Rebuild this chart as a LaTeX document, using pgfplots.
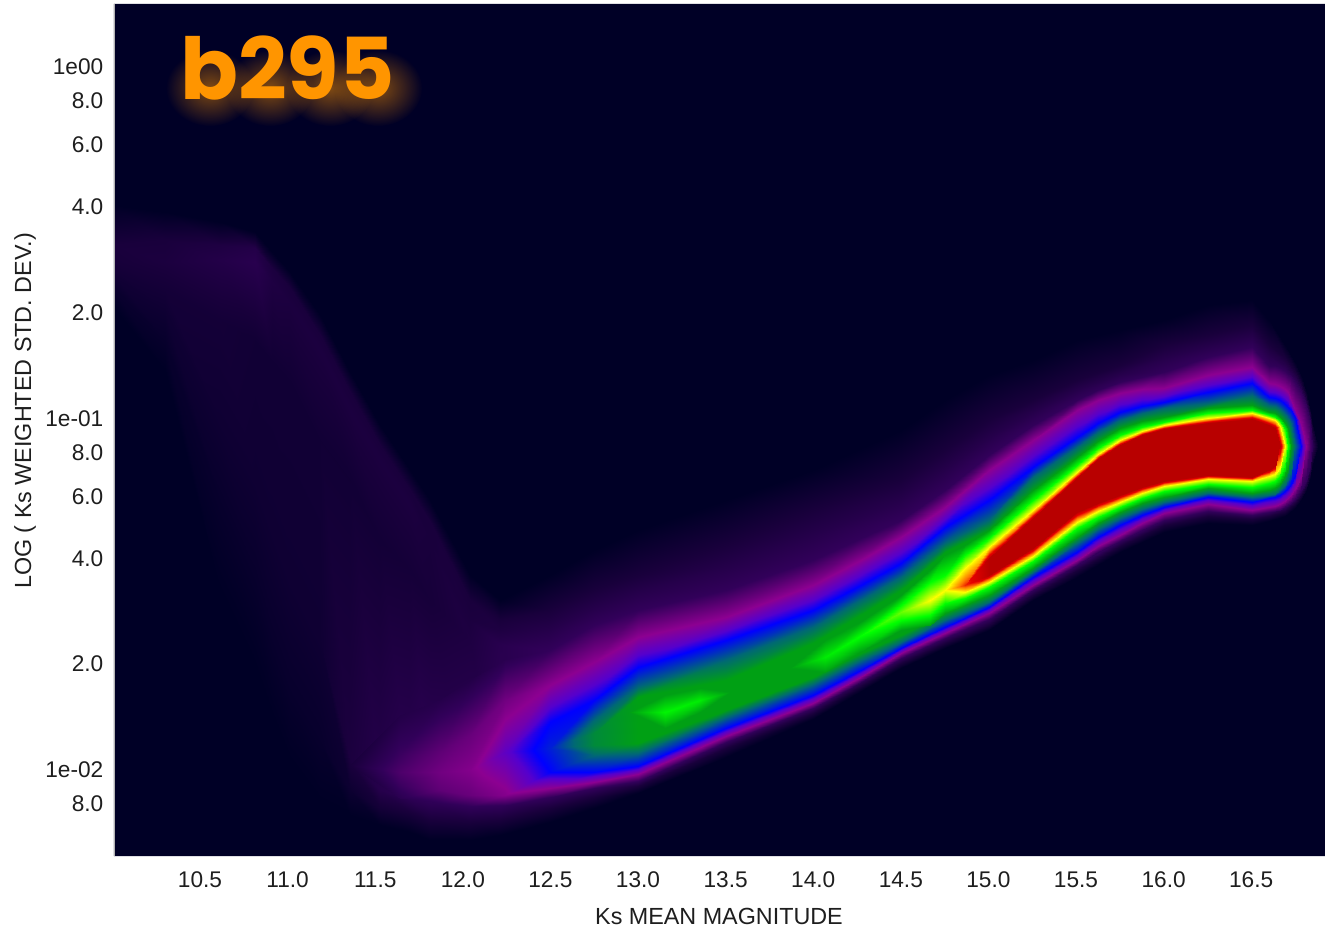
\documentclass[border=0pt]{standalone}
\usepackage{pgfplots}
\pgfplotsset{compat=1.18}
\usetikzlibrary{fadings}
\usepackage{fontspec}
\setmainfont{Liberation Sans}
\newfontfamily\pop{Poppins}
\definecolor{bgc}{RGB}{0,0,38}
\definecolor{ttl}{RGB}{255,149,0}
\definecolor{txt}{RGB}{30,30,30}
\tikzfading[name=softglow,inner color=transparent!0,middle color=transparent!55,outer color=transparent!100]
\pgfplotsset{colormap={heat}{rgb255(0pt)=(0,0,38); rgb255(5pt)=(25,0,60); rgb255(10pt)=(50,0,90); rgb255(20pt)=(140,0,145); rgb255(26pt)=(85,0,205); rgb255(30pt)=(0,0,255); rgb255(40pt)=(0,105,115); rgb255(50pt)=(0,160,20); rgb255(60pt)=(0,255,0); rgb255(70pt)=(255,255,0); rgb255(74pt)=(255,120,0); rgb255(77pt)=(230,0,0); rgb255(80pt)=(184,0,0)}}
\begin{document}
\begin{tikzpicture}[x=0.75pt,y=0.75pt]
\useasboundingbox (0,0) rectangle (1325,933);
\begin{axis}[at={(85.5pt,57.75pt)},anchor=south west,scale only axis,width=908.25pt,height=639pt,
 view={0}{90},xmin=10.009,xmax=16.921,ymin=-2.2476,ymax=0.176,zmin=0,zmax=8,
 point meta min=0,point meta max=8,colormap name=heat,
 axis background/.style={fill=bgc},axis line style={draw=none},major tick length=0pt,
 ztick=\empty,
 xtick={10.5,11,11.5,12,12.5,13,13.5,14,14.5,15,15.5,16,16.5},
 xticklabels={10.5,11.0,11.5,12.0,12.5,13.0,13.5,14.0,14.5,15.0,15.5,16.0,16.5},
 ytick={0,-0.0969,-0.2218,-0.3979,-0.699,-1,-1.0969,-1.2218,-1.3979,-1.699,-2,-2.0969},
 yticklabels={1e00,8.0,6.0,4.0,2.0,1e-01,8.0,6.0,4.0,2.0,1e-02,8.0},
 tick label style={font=\fontsize{17}{20}\selectfont,text=txt},
 yticklabel style={anchor=east,xshift=-4.5pt,yshift=-0.75pt},
 xticklabel style={anchor=base,yshift=-23.5pt},
 xlabel={Ks MEAN MAGNITUDE},ylabel={LOG ( Ks WEIGHTED STD. DEV.)},
 every axis x label/.style={at={(rel axis cs:0.4996,-0.0704)},anchor=center,font=\fontsize{17.5}{20}\selectfont,text=txt},
 every axis y label/.style={at={(rel axis cs:-0.0735,0.5223)},anchor=center,rotate=90,font=\fontsize{17.5}{20}\selectfont,text=txt},
 clip=true]
% faint envelope
\addplot3[surf,shader=interp,mesh/cols=7] coordinates {
(10.0,-0.395,0)(10.0,-0.509,.5)(10.0,-0.558,.45)(10.0,-0.575,.4)(10.0,-0.586,.35)(10.0,-0.623,.2)(10.0,-0.680,0)
(10.3,-0.415,0)(10.3,-0.495,.5)(10.3,-0.558,.55)(10.3,-0.637,.4)(10.3,-0.694,.3)(10.3,-0.780,.15)(10.3,-0.865,0)
(10.614,-0.444,0)(10.614,-0.509,.6)(10.614,-0.552,.7)(10.614,-0.723,.4)(10.614,-1.007,.3)(10.614,-1.235,.15)(10.614,-1.491,0)
(10.814,-0.472,0)(10.814,-0.518,.7)(10.814,-0.558,.8)(10.814,-0.780,.35)(10.814,-1.178,.3)(10.814,-1.462,.15)(10.814,-1.704,0)
(10.911,-0.529,0)(10.911,-0.575,.55)(10.911,-0.615,.6)(10.911,-0.836,.35)(10.911,-1.320,.3)(10.911,-1.633,.15)(10.911,-1.846,0)
(11.014,-0.586,0)(11.014,-0.632,.5)(11.014,-0.674,.55)(11.014,-0.893,.35)(11.014,-1.462,.3)(11.014,-1.775,.15)(11.014,-1.974,0)
(11.185,-0.708,0)(11.185,-0.765,.5)(11.185,-0.808,.55)(11.185,-1.064,.35)(11.185,-1.633,.3)(11.185,-1.918,.15)(11.185,-2.088,0)
(11.356,-0.871,0)(11.356,-0.927,.5)(11.356,-0.979,.55)(11.356,-1.178,.35)(11.356,-1.974,.55)(11.356,-2.060,.25)(11.356,-2.131,0)
(11.527,-1.021,0)(11.527,-1.078,.5)(11.527,-1.121,.55)(11.527,-1.349,.38)(11.527,-2.060,.75)(11.527,-2.111,.4)(11.527,-2.159,0)
(11.699,-1.149,0)(11.699,-1.206,.5)(11.699,-1.249,.55)(11.699,-1.434,.42)(11.699,-2.083,.9)(11.699,-2.122,.5)(11.699,-2.179,0)
(11.813,-1.235,0)(11.813,-1.297,.5)(11.813,-1.349,.5)(11.813,-1.519,.45)(11.813,-2.088,1)(11.813,-2.145,.5)(11.813,-2.202,0)
(12.041,-1.448,0)(12.041,-1.519,.5)(12.041,-1.576,.55)(12.041,-1.633,.6)(12.041,-2.105,1)(12.041,-2.151,.5)(12.041,-2.202,0)
(12.212,-1.519,0)(12.212,-1.576,.5)(12.212,-1.605,.6)(12.212,-1.647,.8)(12.212,-2.102,1)(12.212,-2.145,.5)(12.212,-2.188,0)
(12.498,-1.448,0)(12.498,-1.548,.5)(12.498,-1.605,.75)(12.498,-1.661,1)(12.498,-2.080,1)(12.498,-2.111,.5)(12.498,-2.151,0)
(12.749,-1.377,0)(12.749,-1.491,.5)(12.749,-1.542,.75)(12.749,-1.590,1)(12.749,-2.054,1)(12.749,-2.080,.5)(12.749,-2.111,0)
(13.0,-1.320,0)(13.0,-1.448,.5)(13.0,-1.496,.75)(13.0,-1.548,1)(13.0,-2.034,1)(13.0,-2.048,.5)(13.0,-2.068,0)
(13.502,-1.235,0)(13.502,-1.363,.5)(13.502,-1.428,.75)(13.502,-1.491,1)(13.502,-1.923,1)(13.502,-1.940,.5)(13.502,-1.966,0)
(13.999,-1.149,0)(13.999,-1.263,.5)(13.999,-1.334,.75)(13.999,-1.405,1)(13.999,-1.826,1)(13.999,-1.841,.5)(13.999,-1.858,0)
(14.501,-1.036,0)(14.501,-1.178,.5)(14.501,-1.235,.75)(14.501,-1.292,1)(14.501,-1.684,1)(14.501,-1.698,.5)(14.501,-1.713,0)
(14.752,-0.950,0)(14.752,-1.092,.5)(14.752,-1.149,.75)(14.752,-1.206,1)(14.752,-1.627,1)(14.752,-1.642,.5)(14.752,-1.656,0)
(15.003,-0.879,0)(15.003,-1.007,.5)(15.003,-1.058,.75)(15.003,-1.107,1)(15.003,-1.573,1)(15.003,-1.590,.5)(15.003,-1.605,0)
(15.254,-0.836,0)(15.254,-0.950,.5)(15.254,-0.984,.75)(15.254,-1.021,1)(15.254,-1.491,1)(15.254,-1.505,.5)(15.254,-1.519,0)
(15.506,-0.780,0)(15.506,-0.893,.5)(15.506,-0.922,.75)(15.506,-0.950,1)(15.506,-1.420,1)(15.506,-1.434,.5)(15.506,-1.454,0)
(15.751,-0.751,0)(15.751,-0.851,.5)(15.751,-0.876,.75)(15.751,-0.899,1)(15.751,-1.351,1)(15.751,-1.366,.5)(15.751,-1.383,0)
(16.002,-0.723,0)(16.002,-0.794,.5)(16.002,-0.831,.75)(16.002,-0.871,1)(16.002,-1.292,1)(16.002,-1.306,.5)(16.002,-1.326,0)
(16.253,-0.680,0)(16.253,-0.765,.5)(16.253,-0.797,.75)(16.253,-0.828,1)(16.253,-1.266,1)(16.253,-1.280,.5)(16.253,-1.300,0)
(16.505,-0.666,0)(16.505,-0.737,.5)(16.505,-0.768,.75)(16.505,-0.799,1)(16.505,-1.277,1)(16.505,-1.289,.5)(16.505,-1.306,0)
(16.602,-0.723,0)(16.602,-0.794,.5)(16.602,-0.822,.75)(16.602,-0.854,1)(16.602,-1.269,1)(16.602,-1.280,.5)(16.602,-1.294,0)
(16.693,-0.794,0)(16.693,-0.831,.5)(16.693,-0.851,.75)(16.693,-0.868,1)(16.693,-1.255,1)(16.693,-1.266,.5)(16.693,-1.280,0)
(16.750,-0.842,0)(16.750,-0.871,.5)(16.750,-0.885,.75)(16.750,-0.899,1)(16.750,-1.232,1)(16.750,-1.243,.5)(16.750,-1.257,0)
(16.784,-0.879,0)(16.784,-0.905,.5)(16.784,-0.916,.75)(16.784,-0.927,1)(16.784,-1.206,1)(16.784,-1.220,.5)(16.784,-1.235,0)
(16.813,-0.922,0)(16.813,-0.945,.5)(16.813,-0.956,.75)(16.813,-0.964,1)(16.813,-1.178,1)(16.813,-1.195,.5)(16.813,-1.209,0)
(16.836,-0.973,0)(16.836,-0.993,.5)(16.836,-1.004,.75)(16.836,-1.013,1)(16.836,-1.138,1)(16.836,-1.158,.5)(16.836,-1.175,0)
(16.847,-1.007,0)(16.847,-1.036,.5)(16.847,-1.058,.75)(16.847,-1.081,1)(16.847,-1.081,1)(16.847,-1.115,.5)(16.847,-1.144,0)
(16.881,-1.081,0)(16.881,-1.081,0)(16.881,-1.081,0)(16.881,-1.081,0)(16.881,-1.081,0)(16.881,-1.081,0)(16.881,-1.081,0)
};
% main band
\addplot3[surf,shader=interp,mesh/cols=10] coordinates {
(11.356,-1.989,.5)(11.356,-1.989,.5)(11.356,-1.989,.5)(11.356,-1.989,.5)(11.356,-1.989,.5)(11.356,-1.989,.5)(11.356,-1.989,.5)(11.356,-1.989,.5)(11.356,-1.989,.5)(11.356,-1.989,.5)
(11.642,-1.846,.7)(11.642,-1.960,1.1)(11.642,-2.009,1.3)(11.642,-2.009,1.3)(11.642,-2.009,1.3)(11.642,-2.009,1.3)(11.642,-2.009,1.3)(11.642,-2.009,1.3)(11.642,-2.046,1.1)(11.642,-2.083,.85)
(11.870,-1.804,.75)(11.870,-1.952,1.5)(11.870,-2.009,1.7)(11.870,-2.009,1.7)(11.870,-2.009,1.7)(11.870,-2.009,1.7)(11.870,-2.009,1.7)(11.870,-2.009,1.7)(11.870,-2.060,1.5)(11.870,-2.097,.95)
(12.041,-1.747,.7)(12.041,-1.903,1.6)(12.041,-2.003,1.9)(12.041,-2.003,1.9)(12.041,-2.003,1.9)(12.041,-2.003,1.9)(12.041,-2.003,1.9)(12.041,-2.003,1.9)(12.041,-2.074,1.6)(12.041,-2.105,1)
(12.241,-1.690,.85)(12.241,-1.804,1.7)(12.241,-1.952,2.5)(12.241,-1.952,2.5)(12.241,-1.952,2.5)(12.241,-1.952,2.5)(12.241,-1.952,2.5)(12.241,-1.952,2.5)(12.241,-2.074,1.9)(12.241,-2.102,1)
(12.498,-1.661,1)(12.498,-1.761,2)(12.498,-1.866,3)(12.498,-1.940,3.3)(12.498,-1.940,3.3)(12.498,-1.940,3.3)(12.498,-1.940,3.3)(12.498,-2.009,3)(12.498,-2.054,2)(12.498,-2.080,1)
(12.749,-1.590,1)(12.749,-1.696,2)(12.749,-1.804,3)(12.749,-1.861,4)(12.749,-1.898,4.6)(12.749,-1.932,4.6)(12.749,-1.960,4)(12.749,-2.009,3)(12.749,-2.037,2)(12.749,-2.054,1)
(13.0,-1.548,1)(13.0,-1.624,2)(13.0,-1.710,3)(13.0,-1.767,4)(13.0,-1.795,5)(13.0,-1.926,5)(13.0,-1.955,4)(13.0,-1.992,3)(13.0,-2.014,2)(13.0,-2.034,1)
(13.502,-1.491,1)(13.502,-1.568,2)(13.502,-1.633,3)(13.502,-1.690,4)(13.502,-1.747,5)(13.502,-1.832,5)(13.502,-1.852,4)(13.502,-1.883,3)(13.502,-1.906,2)(13.502,-1.923,1)
(13.999,-1.405,1)(13.999,-1.477,2)(13.999,-1.548,3)(13.999,-1.596,4)(13.999,-1.642,5)(13.999,-1.738,5)(13.999,-1.758,4)(13.999,-1.789,3)(13.999,-1.812,2)(13.999,-1.826,1)
(14.250,-1.349,1)(14.250,-1.411,2)(14.250,-1.482,3)(14.250,-1.525,4)(14.250,-1.568,5)(14.250,-1.676,5)(14.250,-1.696,4)(14.250,-1.724,3)(14.250,-1.744,2)(14.250,-1.758,1)
(14.501,-1.292,1)(14.501,-1.340,2)(14.501,-1.414,3)(14.501,-1.454,4)(14.501,-1.491,5)(14.501,-1.619,5)(14.501,-1.639,4)(14.501,-1.656,3)(14.501,-1.670,2)(14.501,-1.684,1)
(14.752,-1.206,1)(14.752,-1.255,2)(14.752,-1.312,3)(14.752,-1.357,4)(14.752,-1.383,5)(14.752,-1.556,5)(14.752,-1.576,4)(14.752,-1.596,3)(14.752,-1.613,2)(14.752,-1.627,1)
(15.003,-1.107,1)(15.003,-1.149,2)(15.003,-1.235,3)(15.003,-1.292,4)(15.003,-1.320,5)(15.003,-1.505,5)(15.003,-1.525,4)(15.003,-1.539,3)(15.003,-1.556,2)(15.003,-1.573,1)
(15.254,-1.021,1)(15.254,-1.064,2)(15.254,-1.141,3)(15.254,-1.169,4)(15.254,-1.206,5)(15.254,-1.428,5)(15.254,-1.440,4)(15.254,-1.454,3)(15.254,-1.477,2)(15.254,-1.491,1)
(15.506,-0.950,1)(15.506,-0.979,2)(15.506,-1.055,3)(15.506,-1.084,4)(15.506,-1.112,5)(15.506,-1.340,5)(15.506,-1.357,4)(15.506,-1.383,3)(15.506,-1.405,2)(15.506,-1.420,1)
(15.626,-0.922,1)(15.626,-0.950,2)(15.626,-1.016,3)(15.626,-1.041,4)(15.626,-1.067,5)(15.626,-1.300,5)(15.626,-1.317,4)(15.626,-1.340,3)(15.626,-1.366,2)(15.626,-1.383,1)
(15.751,-0.899,1)(15.751,-0.930,2)(15.751,-0.984,3)(15.751,-1.007,4)(15.751,-1.030,5)(15.751,-1.269,5)(15.751,-1.286,4)(15.751,-1.306,3)(15.751,-1.334,2)(15.751,-1.351,1)
(15.877,-0.885,1)(15.877,-0.919,2)(15.877,-0.967,3)(15.877,-0.987,4)(15.877,-1.010,5)(15.877,-1.243,5)(15.877,-1.260,4)(15.877,-1.277,3)(15.877,-1.300,2)(15.877,-1.320,1)
(16.002,-0.871,1)(16.002,-0.916,2)(16.002,-0.956,3)(16.002,-0.973,4)(16.002,-0.999,5)(16.002,-1.226,5)(16.002,-1.240,4)(16.002,-1.255,3)(16.002,-1.272,2)(16.002,-1.292,1)
(16.253,-0.828,1)(16.253,-0.879,2)(16.253,-0.927,3)(16.253,-0.959,4)(16.253,-0.973,5)(16.253,-1.201,5)(16.253,-1.215,4)(16.253,-1.226,3)(16.253,-1.246,2)(16.253,-1.266,1)
(16.505,-0.799,1)(16.505,-0.856,2)(16.505,-0.902,3)(16.505,-0.936,4)(16.505,-0.964,5)(16.505,-1.215,5)(16.505,-1.226,4)(16.505,-1.240,3)(16.505,-1.263,2)(16.505,-1.277,1)
(16.602,-0.854,1)(16.602,-0.902,2)(16.602,-0.942,3)(16.602,-0.964,4)(16.602,-0.984,5)(16.602,-1.206,5)(16.602,-1.220,4)(16.602,-1.229,3)(16.602,-1.255,2)(16.602,-1.269,1)
(16.636,-0.854,1)(16.636,-0.905,2)(16.636,-0.945,3)(16.636,-0.967,4)(16.636,-0.987,5)(16.636,-1.201,5)(16.636,-1.218,4)(16.636,-1.226,3)(16.636,-1.252,2)(16.636,-1.266,1)
(16.664,-0.859,1)(16.664,-0.910,2)(16.664,-0.950,3)(16.664,-0.976,4)(16.664,-0.999,5)(16.664,-1.189,5)(16.664,-1.206,4)(16.664,-1.220,3)(16.664,-1.246,2)(16.664,-1.263,1)
(16.693,-0.868,1)(16.693,-0.919,2)(16.693,-0.962,3)(16.693,-0.990,4)(16.693,-1.016,5)(16.693,-1.166,5)(16.693,-1.192,4)(16.693,-1.209,3)(16.693,-1.238,2)(16.693,-1.255,1)
(16.710,-0.876,1)(16.710,-0.927,2)(16.710,-0.970,3)(16.710,-1.001,4)(16.710,-1.033,5)(16.710,-1.144,5)(16.710,-1.175,4)(16.710,-1.201,3)(16.710,-1.229,2)(16.710,-1.249,1)
(16.727,-0.882,1)(16.727,-0.950,2)(16.727,-0.979,3)(16.727,-1.019,4)(16.727,-1.081,5)(16.727,-1.081,5)(16.727,-1.155,4)(16.727,-1.189,3)(16.727,-1.220,2)(16.727,-1.243,1)
(16.750,-0.899,1)(16.750,-0.979,2)(16.750,-0.999,3)(16.750,-1.081,4)(16.750,-1.081,4)(16.750,-1.081,4)(16.750,-1.081,4)(16.750,-1.166,3)(16.750,-1.203,2)(16.750,-1.232,1)
(16.784,-0.927,1)(16.784,-1.019,2)(16.784,-1.081,3)(16.784,-1.081,3)(16.784,-1.081,3)(16.784,-1.081,3)(16.784,-1.081,3)(16.784,-1.081,3)(16.784,-1.169,2)(16.784,-1.206,1)
(16.813,-0.964,1)(16.813,-1.081,2)(16.813,-1.081,2)(16.813,-1.081,2)(16.813,-1.081,2)(16.813,-1.081,2)(16.813,-1.081,2)(16.813,-1.081,2)(16.813,-1.081,2)(16.813,-1.178,1)
(16.836,-1.013,1)(16.836,-1.081,1.3)(16.836,-1.081,1.3)(16.836,-1.081,1.3)(16.836,-1.081,1.3)(16.836,-1.081,1.3)(16.836,-1.081,1.3)(16.836,-1.081,1.3)(16.836,-1.081,1.3)(16.836,-1.138,1)
(16.847,-1.081,1)(16.847,-1.081,1)(16.847,-1.081,1)(16.847,-1.081,1)(16.847,-1.081,1)(16.847,-1.081,1)(16.847,-1.081,1)(16.847,-1.081,1)(16.847,-1.081,1)(16.847,-1.081,1)
};
% core
\addplot3[surf,shader=interp,mesh/cols=8] coordinates {
(12.954,-1.838,5)(12.954,-1.838,5)(12.954,-1.838,5)(12.954,-1.838,5)(12.954,-1.838,5)(12.954,-1.838,5)(12.954,-1.838,5)(12.954,-1.838,5)
(13.154,-1.789,5)(13.154,-1.838,5.9)(13.154,-1.838,5.9)(13.154,-1.838,5.9)(13.154,-1.838,5.9)(13.154,-1.838,5.9)(13.154,-1.838,5.9)(13.154,-1.883,5)
(13.354,-1.770,5)(13.354,-1.804,5.8)(13.354,-1.804,5.8)(13.354,-1.804,5.8)(13.354,-1.804,5.8)(13.354,-1.804,5.8)(13.354,-1.804,5.8)(13.354,-1.838,5)
(13.525,-1.781,5)(13.525,-1.781,5)(13.525,-1.781,5)(13.525,-1.781,5)(13.525,-1.781,5)(13.525,-1.781,5)(13.525,-1.781,5)(13.525,-1.781,5)
(13.868,-1.713,5)(13.868,-1.713,5)(13.868,-1.713,5)(13.868,-1.713,5)(13.868,-1.713,5)(13.868,-1.713,5)(13.868,-1.713,5)(13.868,-1.713,5)
(14.067,-1.633,5)(14.067,-1.681,5.8)(14.067,-1.681,5.8)(14.067,-1.681,5.8)(14.067,-1.681,5.8)(14.067,-1.681,5.8)(14.067,-1.681,5.8)(14.067,-1.724,5)
(14.267,-1.582,5)(14.267,-1.622,6)(14.267,-1.622,6)(14.267,-1.622,6)(14.267,-1.622,6)(14.267,-1.622,6)(14.267,-1.622,6)(14.267,-1.667,5)
(14.501,-1.505,5)(14.501,-1.535,6)(14.501,-1.553,6.4)(14.501,-1.553,6.4)(14.501,-1.553,6.4)(14.501,-1.553,6.4)(14.501,-1.575,6)(14.501,-1.605,5)
(14.667,-1.434,5)(14.667,-1.468,6)(14.667,-1.519,7)(14.667,-1.519,7)(14.667,-1.519,7)(14.667,-1.519,7)(14.667,-1.562,6)(14.667,-1.590,5)
(14.752,-1.391,5)(14.752,-1.448,6)(14.752,-1.491,7)(14.752,-1.491,7)(14.752,-1.491,7)(14.752,-1.491,7)(14.752,-1.528,6)(14.752,-1.556,5)
(14.866,-1.363,5)(14.866,-1.391,6)(14.866,-1.428,7)(14.866,-1.477,7.6)(14.866,-1.477,7.6)(14.866,-1.496,7)(14.866,-1.514,6)(14.866,-1.533,5)
(15.003,-1.320,5)(15.003,-1.343,6)(15.003,-1.368,7)(15.003,-1.400,8)(15.003,-1.448,8)(15.003,-1.468,7)(15.003,-1.482,6)(15.003,-1.505,5)
(15.254,-1.206,5)(15.254,-1.235,6)(15.254,-1.263,7)(15.254,-1.286,8)(15.254,-1.371,8)(15.254,-1.394,7)(15.254,-1.408,6)(15.254,-1.428,5)
(15.506,-1.112,5)(15.506,-1.135,6)(15.506,-1.155,7)(15.506,-1.172,8)(15.506,-1.269,8)(15.506,-1.297,7)(15.506,-1.314,6)(15.506,-1.340,5)
(15.626,-1.067,5)(15.626,-1.087,6)(15.626,-1.104,7)(15.626,-1.118,8)(15.626,-1.243,8)(15.626,-1.266,7)(15.626,-1.283,6)(15.626,-1.300,5)
(15.751,-1.030,5)(15.751,-1.050,6)(15.751,-1.064,7)(15.751,-1.078,8)(15.751,-1.220,8)(15.751,-1.240,7)(15.751,-1.255,6)(15.751,-1.269,5)
(15.877,-1.010,5)(15.877,-1.027,6)(15.877,-1.038,7)(15.877,-1.050,8)(15.877,-1.198,8)(15.877,-1.215,7)(15.877,-1.229,6)(15.877,-1.243,5)
(16.002,-0.999,5)(16.002,-1.013,6)(16.002,-1.021,7)(16.002,-1.033,8)(16.002,-1.181,8)(16.002,-1.195,7)(16.002,-1.209,6)(16.002,-1.226,5)
(16.253,-0.973,5)(16.253,-0.987,6)(16.253,-1.001,7)(16.253,-1.016,8)(16.253,-1.164,8)(16.253,-1.175,7)(16.253,-1.189,6)(16.253,-1.201,5)
(16.505,-0.964,5)(16.505,-0.979,6)(16.505,-0.987,7)(16.505,-1.004,8)(16.505,-1.169,8)(16.505,-1.181,7)(16.505,-1.198,6)(16.505,-1.215,5)
(16.602,-0.984,5)(16.602,-0.993,6)(16.602,-1.001,7)(16.602,-1.021,8)(16.602,-1.149,8)(16.602,-1.166,7)(16.602,-1.186,6)(16.602,-1.206,5)
(16.636,-0.987,5)(16.636,-0.999,6)(16.636,-1.007,7)(16.636,-1.030,8)(16.636,-1.138,8)(16.636,-1.161,7)(16.636,-1.181,6)(16.636,-1.201,5)
(16.664,-0.999,5)(16.664,-1.010,6)(16.664,-1.024,7)(16.664,-1.081,8)(16.664,-1.081,8)(16.664,-1.144,7)(16.664,-1.166,6)(16.664,-1.189,5)
(16.693,-1.016,5)(16.693,-1.033,6)(16.693,-1.081,7)(16.693,-1.081,7)(16.693,-1.081,7)(16.693,-1.081,7)(16.693,-1.138,6)(16.693,-1.166,5)
(16.710,-1.033,5)(16.710,-1.081,6)(16.710,-1.081,6)(16.710,-1.081,6)(16.710,-1.081,6)(16.710,-1.081,6)(16.710,-1.081,6)(16.710,-1.144,5)
(16.727,-1.081,5)(16.727,-1.081,5)(16.727,-1.081,5)(16.727,-1.081,5)(16.727,-1.081,5)(16.727,-1.081,5)(16.727,-1.081,5)(16.727,-1.081,5)
};
\end{axis}
\draw[gray!60,line width=0.5pt] (114,77) -- (114,929);
\foreach \cx in {210,270,330,378}{
 \fill[ttl,opacity=0.5,path fading=softglow] (\cx,845) ellipse [x radius=44,y radius=38];
}
\node[anchor=base west,inner sep=0pt,text=ttl,font=\pop\bfseries\fontsize{64}{70}\selectfont] at (180,833) {b295};
\end{tikzpicture}
\end{document}
